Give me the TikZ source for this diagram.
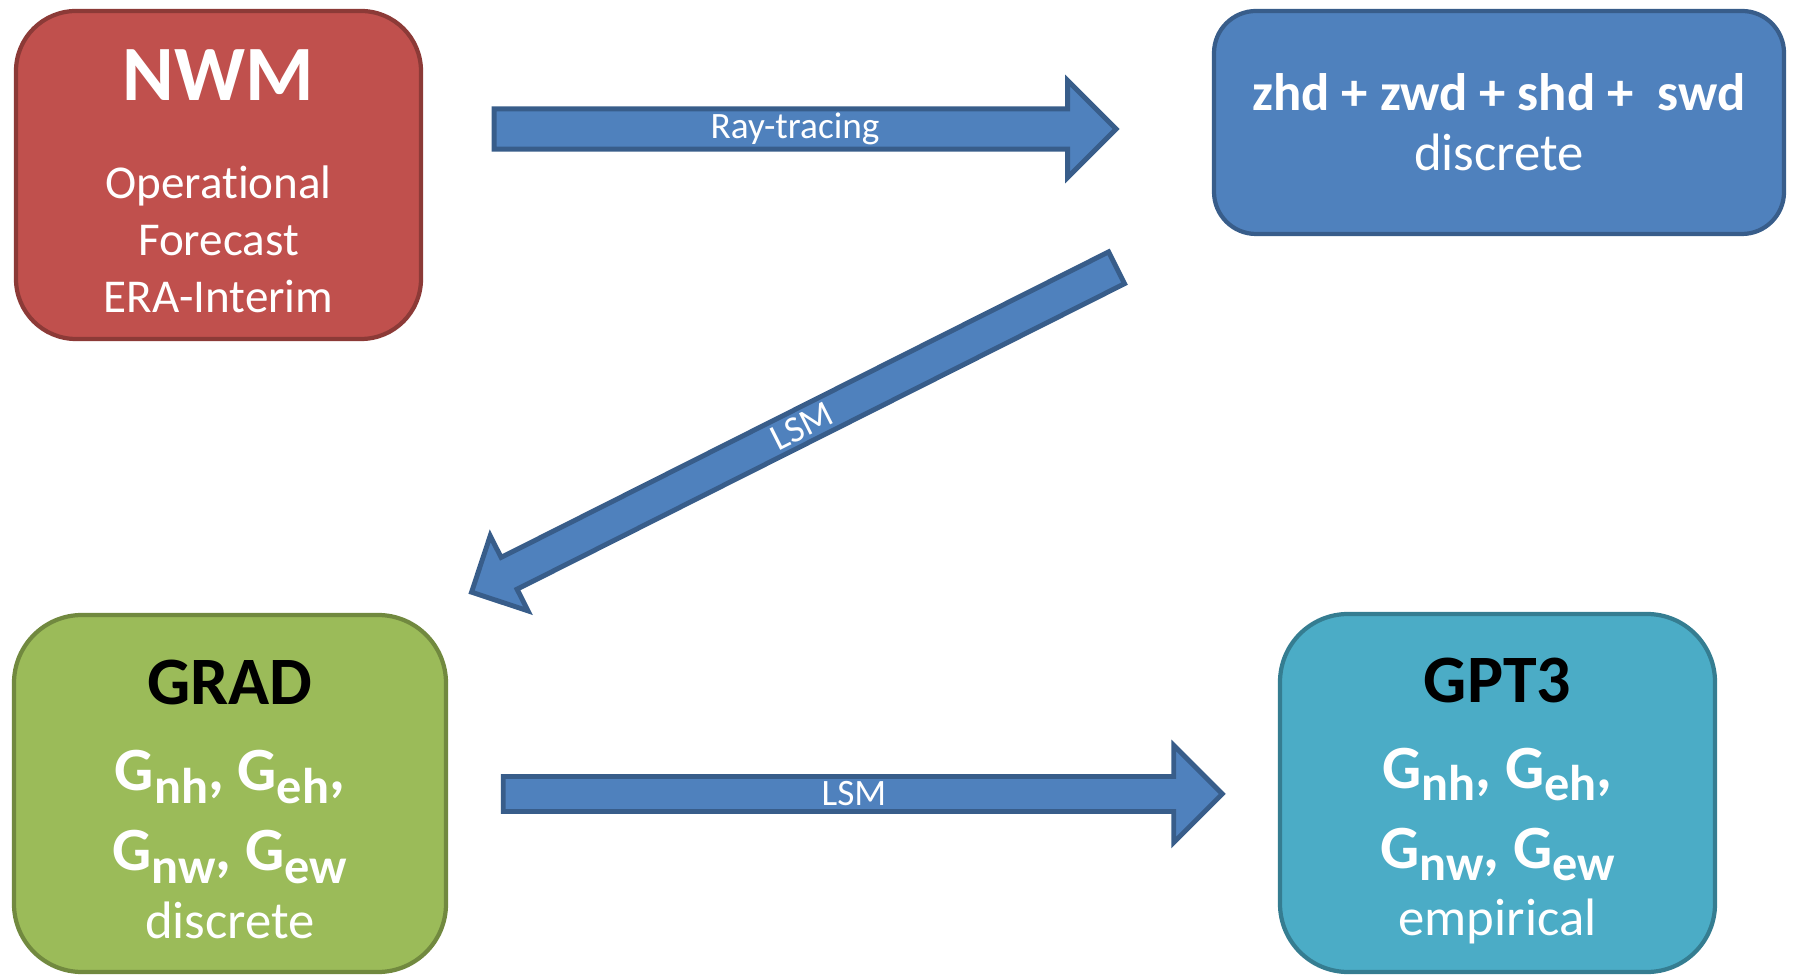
\documentclass[tikz,border=0pt]{standalone}
\usepackage{fontspec}
\setmainfont{Carlito}[Ligatures=NoCommon]
\usetikzlibrary{shapes.arrows}

\definecolor{nwmfill}{HTML}{C0504D}
\definecolor{nwmline}{HTML}{8C3A37}
\definecolor{ztdfill}{HTML}{4F81BD}
\definecolor{ztdline}{HTML}{385D8A}
\definecolor{gradfill}{HTML}{9BBB59}
\definecolor{gradline}{HTML}{71893F}
\definecolor{gptfill}{HTML}{4BACC6}
\definecolor{gptline}{HTML}{357D91}

\newcommand{\sbs}[1]{\raisebox{-0.2em}{\fontsize{14.3}{15}\selectfont #1}}
\newcommand{\lift}[1]{\rule{0pt}{#1}}

\begin{document}
\begin{tikzpicture}[
    box/.style={draw, line width=1.2pt, text=white, align=center},
    blockarrow/.style={single arrow, draw=ztdline, fill=ztdfill, line width=1.4pt,
        single arrow head indent=0pt, inner sep=0pt, text=white,
        font=\fontsize{10.6}{12}\selectfont}
]
\useasboundingbox (0,0) rectangle (17.93,9.76);

% Top row
\node[box, fill=nwmfill, draw=nwmline, minimum width=4.05cm, minimum height=3.28cm,
      rounded corners=0.6cm, font=\fontsize{13.4}{16.2}\selectfont] (nwm) at (2.185,8.01)
    {\lift{17.8pt}{\fontsize{22.3}{24}\selectfont\bfseries NWM}\\[11.7pt]
     Operational\\Forecast\\ERA-Interim};
\node[box, fill=ztdfill, draw=ztdline, minimum width=5.70cm, minimum height=2.23cm,
      rounded corners=0.42cm, font=\fontsize{15}{17.1}\selectfont] (ztd) at (14.99,8.535)
    {{\bfseries zhd + zwd + shd +\ \ swd}\\discrete};

% Bottom row
\node[box, fill=gradfill, draw=gradline, minimum width=4.32cm, minimum height=3.57cm,
      rounded corners=0.68cm, font=\fontsize{15}{19.1}\selectfont] (grad) at (2.30,1.825)
    {\lift{16pt}{\fontsize{19.3}{20}\selectfont\bfseries\color{black}GRAD}\\[5.4pt]
     {\fontsize{17.5}{20}\selectfont\bfseries G\sbs{nh}, G\sbs{eh},}\\[3.7pt]
     {\fontsize{17.5}{20}\selectfont\bfseries G\sbs{nw}, G\sbs{ew}}\\
     discrete};
\node[box, fill=gptfill, draw=gptline, minimum width=4.35cm, minimum height=3.58cm,
      rounded corners=0.68cm, font=\fontsize{15}{19.1}\selectfont] (gpt) at (14.975,1.83)
    {\lift{17.2pt}{\fontsize{19.3}{20}\selectfont\bfseries\color{black}GPT3}\\[5.4pt]
     {\fontsize{17.5}{20}\selectfont\bfseries G\sbs{nh}, G\sbs{eh},}\\[3.7pt]
     {\fontsize{17.5}{20}\selectfont\bfseries G\sbs{nw}, G\sbs{ew}}\\
     empirical};

% Arrows
\node[blockarrow, minimum height=6.22cm, minimum width=0.97cm,
      single arrow head extend=0.26cm] (raytrace) at (7.95,8.47) {Ray-tracing};
\node[blockarrow, rotate=26.7, shape border rotate=180, minimum height=7.22cm,
      minimum width=0.84cm, single arrow head extend=0.2cm] (lsmdiag) at (8.02,5.50) {LSM};
\node[blockarrow, minimum height=7.19cm, minimum width=0.97cm,
      single arrow head extend=0.26cm] (lsmfit) at (8.54,1.82) {LSM};
\end{tikzpicture}
\end{document}
